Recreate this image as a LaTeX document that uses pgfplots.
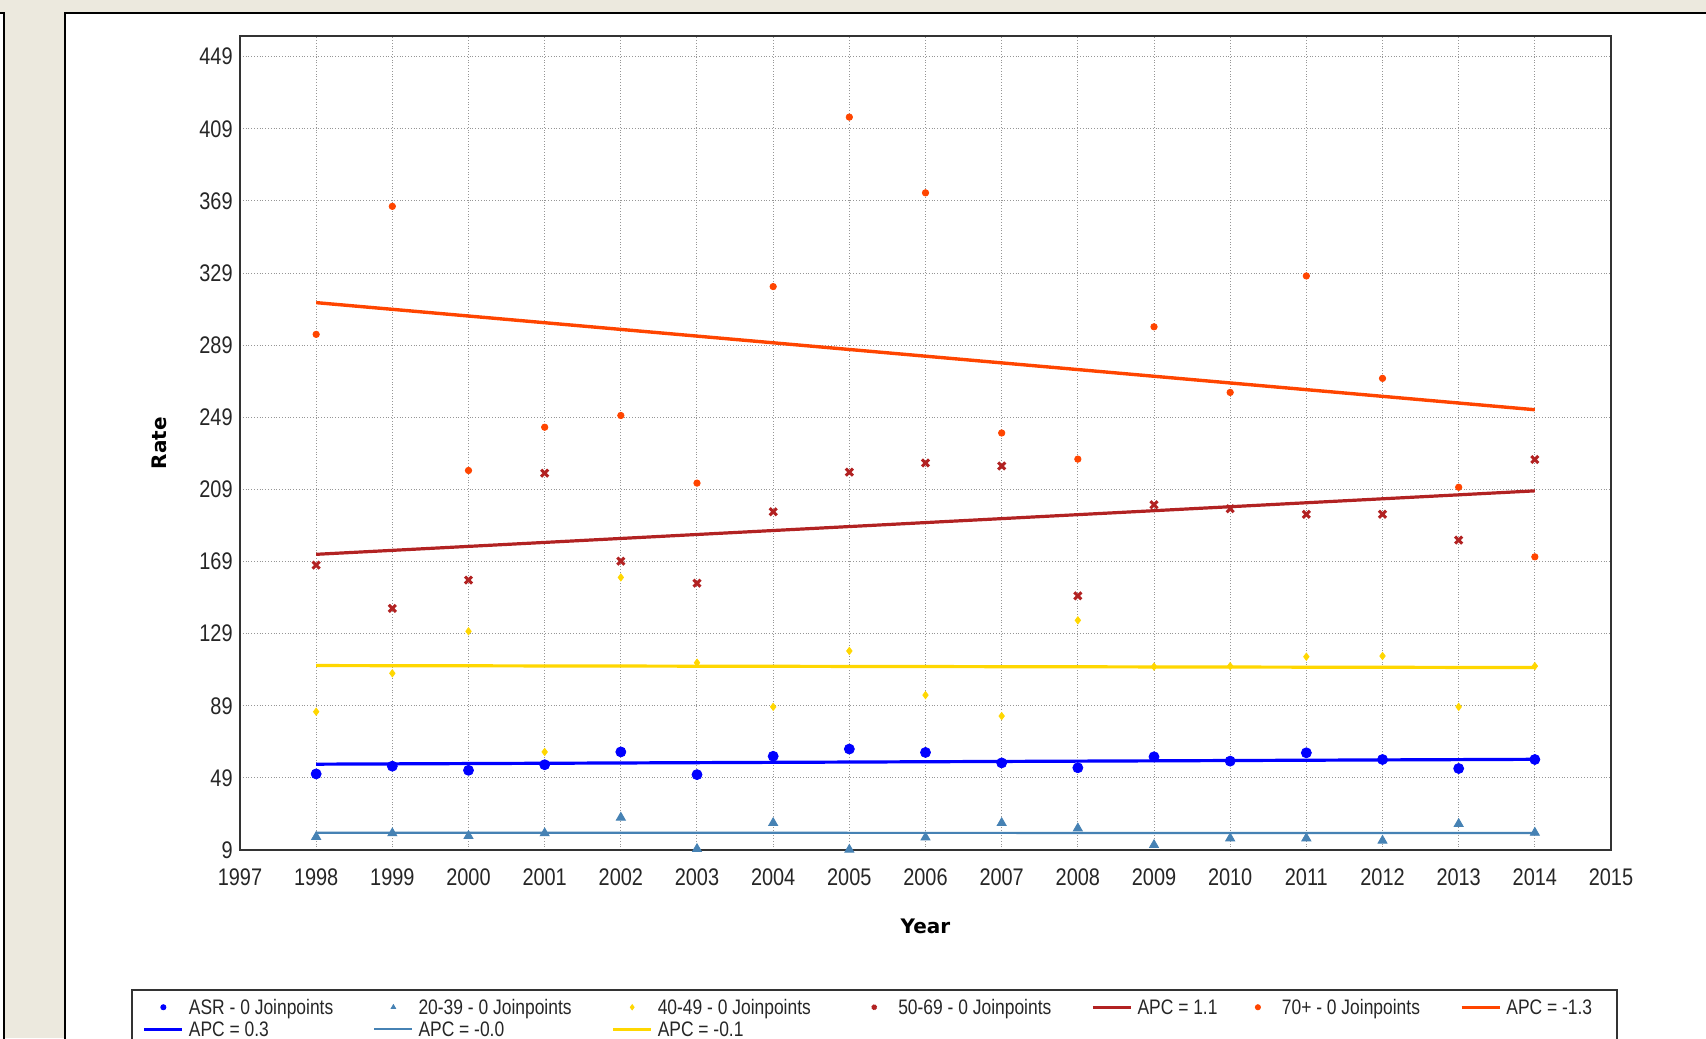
\documentclass[border=0pt]{standalone}
\usepackage{fontspec}
\setmainfont{Liberation Sans}[FakeStretch=0.83]
\newfontfamily\labfont{DejaVu Sans}
\usepackage{pgfplots}
\pgfplotsset{compat=1.18}
\definecolor{bgbeige}{RGB}{236,233,222}
\definecolor{asrblue}{RGB}{0,0,255}
\definecolor{steel}{RGB}{70,130,180}
\definecolor{goldy}{RGB}{255,215,0}
\definecolor{firebr}{RGB}{178,34,34}
\definecolor{orred}{RGB}{255,69,0}
\definecolor{gridgray}{RGB}{150,150,150}
\begin{document}
\begin{tikzpicture}
\useasboundingbox (0,0) rectangle (853pt,519pt);
\fill[bgbeige] (0,0) rectangle (853pt,519pt);
\filldraw[fill=white, draw=black, line width=1pt] (-5pt,-5pt) rectangle (1.75pt,512.5pt);
\filldraw[fill=white, draw=black, line width=1pt] (32.25pt,-5pt) rectangle (870pt,512.5pt);
\begin{axis}[
  at={(120pt,94pt)}, anchor=south west,
  scale only axis, width=685.5pt, height=407pt,
  xmin=1997, xmax=2015, ymin=9, ymax=460.5,
  xtick={1997,1998,...,2015}, ytick={9,49,...,449},
  grid=major,
  grid style={densely dotted, gridgray, line width=0.5pt},
  major tick length=0pt,
  axis line style={black!80, line width=0.9pt},
  /pgf/number format/assume math mode=true,
  /pgf/number format/1000 sep={},
  tick label style={font=\fontsize{12}{14}\selectfont, inner sep=0pt, text=black!85},
  xticklabel style={yshift=-9pt},
  yticklabel style={xshift=-3.5pt},
  xlabel={Year}, ylabel={Rate},
  xlabel style={font=\labfont\bfseries\fontsize{10}{12}\selectfont, inner sep=0pt, at={(axis description cs:0.5,-0.08477)}, anchor=north},
  ylabel style={font=\labfont\bfseries\fontsize{10}{12}\selectfont, inner sep=0pt, at={(axis description cs:-0.05325,0.5)}, anchor=south},
  legend columns=7,
  legend cell align=left,
  legend style={at={(axis description cs:-0.0795,-0.17076)}, anchor=north west,
    draw=black!80, line width=0.75pt, inner xsep=5.5pt, inner ysep=5pt,
    font=\fontsize{10.5}{12}\selectfont, row sep=3.5pt,
    nodes={inner sep=0pt, text height=7.5pt, text depth=0pt, text=black!85},
    /tikz/every odd column/.append style={column sep=2.5pt},
    /tikz/every even column/.append style={column sep=20pt}},
  legend image code/.code={\path[draw=none,fill=none] (0pt,-0.5pt) rectangle (19pt,0.5pt);\draw[mark repeat=2,mark phase=2,#1] plot coordinates {(0pt,0pt) (9.5pt,0pt) (19pt,0pt)};},
  legend image post style={mark size=1.3pt},
]
% ASR points
\addplot[only marks, mark=*, mark size=2.5pt, color=asrblue, line width=0.4pt] coordinates {
(1998,51.2) (1999,55.5) (2000,53.2) (2001,56.3) (2002,63.4) (2003,50.8) (2004,61.0) (2005,65.0)
(2006,63.1) (2007,57.3) (2008,54.6) (2009,60.7) (2010,58.3) (2011,62.9) (2012,59.2) (2013,54.2) (2014,59.2)};
\addlegendentry{ASR - 0 Joinpoints}
% 20-39 points
\addplot[only marks, mark=triangle*, mark size=2.6pt, color=steel, line width=0.4pt] coordinates {
(1998,16.3) (1999,18.3) (2000,16.8) (2001,18.3) (2002,27.0) (2003,9.6) (2004,24.0) (2005,9.2)
(2006,16.0) (2007,24.0) (2008,21.0) (2009,11.8) (2010,15.5) (2011,15.5) (2012,14.2) (2013,23.5) (2014,18.6)};
\addlegendentry{20-39 - 0 Joinpoints}
% 40-49 points
\addplot[only marks, mark=diamond*, mark size=1.8pt, color=goldy, line width=0.4pt] coordinates {
(1998,85.7) (1999,107.0) (2000,130.3) (2001,63.4) (2002,160.2) (2003,112.9) (2004,88.4) (2005,119.4)
(2006,94.9) (2007,83.3) (2008,136.4) (2009,110.7) (2010,111.0) (2011,116.2) (2012,116.6) (2013,88.4) (2014,111.0)};
\addlegendentry{40-49 - 0 Joinpoints\kern2.2pt\relax}
% 50-69 points
\addplot[only marks, mark=x, mark size=2.5pt, color=firebr, line width=1.5pt] coordinates {
(1998,167.0) (1999,143.0) (2000,158.7) (2001,218.0) (2002,169.2) (2003,157.0) (2004,196.6) (2005,218.6)
(2006,223.7) (2007,222.0) (2008,150.0) (2009,200.5) (2010,198.3) (2011,195.2) (2012,195.2) (2013,180.9) (2014,225.6)};
\addlegendentry{50-69 - 0 Joinpoints}
% 50-69 trend
\addplot[firebr, line width=1.6pt, no markers] coordinates {(1998,173.0) (2014,208.2)};
\addlegendentry{APC = 1.1\kern-9.3pt\relax}
% 70+ points
\addplot[only marks, mark=*, mark size=1.6pt, color=orred, line width=0.4pt] coordinates {
(1998,295.0) (1999,366.0) (2000,219.5) (2001,243.5) (2002,250.0) (2003,212.5) (2004,321.5) (2005,415.5)
(2006,373.5) (2007,240.3) (2008,225.8) (2009,299.2) (2010,262.8) (2011,327.4) (2012,270.6) (2013,210.2) (2014,171.6)};
\addlegendentry{70+ - 0 Joinpoints}
% 70+ trend
\addplot[orred, line width=1.7pt, no markers] coordinates {(1998,312.6) (2014,253.2)};
\addlegendentry{APC = -1.3\kern6.8pt\relax}
% ASR trend
\addplot[asrblue, line width=1.6pt, no markers] coordinates {(1998,56.6) (2014,59.3)};
\addlegendentry{APC = 0.3}
% 20-39 trend
\addplot[steel, line width=1.1pt, no markers] coordinates {(1998,18.6) (2014,18.4)};
\addlegendentry{APC = -0.0}
% 40-49 trend
\addplot[goldy, line width=1.6pt, no markers] coordinates {(1998,111.3) (2014,110.2)};
\addlegendentry{APC = -0.1}
\end{axis}
\end{tikzpicture}
\end{document}
